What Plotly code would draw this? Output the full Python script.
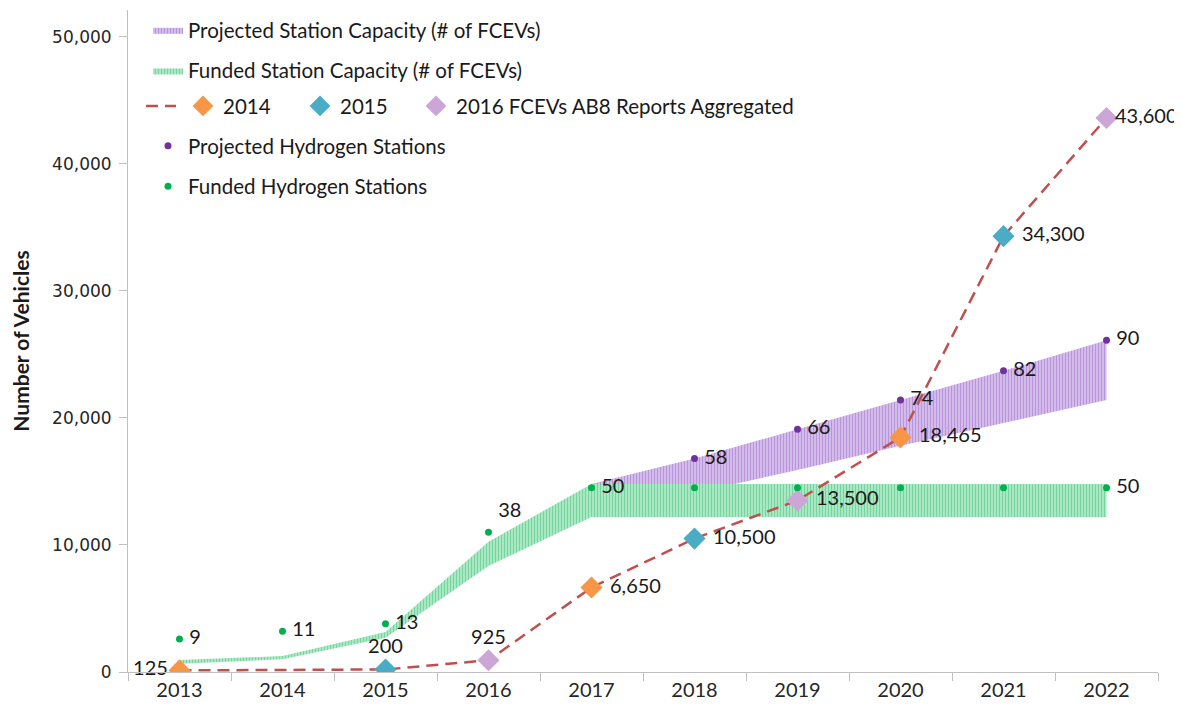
import plotly.graph_objects as go

years = ['2013', '2014', '2015', '2016', '2017', '2018', '2019', '2020', '2021', '2022']

# station capacity bands (number of FCEVs)
funded_low = [650, 1000, 2700, 8350, 12200, 12200, 12200, 12200, 12200, 12200]
funded_high = [950, 1250, 3150, 10250, 14800, 14800, 14800, 14800, 14800, 14800]

proj_years = ['2017', '2018', '2019', '2020', '2021', '2022']
proj_low = [12200, 14100, 15900, 17800, 19600, 21400]
proj_high = [14800, 16800, 19100, 21400, 23700, 26100]

# FCEV counts from AB8 reports
fcev_years = ['2013', '2015', '2016', '2017', '2018', '2019', '2020', '2021', '2022']
fcev_values = [125, 200, 925, 6650, 10500, 13500, 18465, 34300, 43600]

r2014_years = ['2013', '2017', '2020']
r2014_values = [125, 6650, 18465]
r2015_years = ['2015', '2018', '2021']
r2015_values = [200, 10500, 34300]
r2016_years = ['2016', '2019', '2022']
r2016_values = [925, 13500, 43600]

# hydrogen station counts (dot height, label)
funded_st_y = [2600, 3200, 3800, 11000, 14500, 14500, 14500, 14500, 14500, 14500]
funded_st_labels = ['9', '11', '13', '38', '50', '', '', '', '', '50']
proj_st_years = ['2018', '2019', '2020', '2021', '2022']
proj_st_y = [16800, 19100, 21400, 23700, 26100]
proj_st_labels = ['58', '66', '74', '82', '90']

FONT = 'Lato'
TXT = '#1a1a1a'
W, H = 1174, 703   # page body adds an 8px margin
PW = 1030          # plot area width in px
CLEAR = 'rgba(0,0,0,0)'
LABEL_FONT = dict(size=20, color=TXT, family=FONT)


def band(x, lo, hi, name, fg, bg, legend, group):
    return go.Scatter(
        x=x + x[::-1], y=hi + lo[::-1], mode='lines', fill='toself',
        line=dict(width=0), fillcolor=bg, name=name,
        fillpattern=dict(shape='|', fgcolor=fg, bgcolor=bg, size=3, solidity=0.45),
        legend=legend, legendgroup=group, hoverinfo='skip')


def labels(x, y, pos, size, text=None, template=None):
    # invisible markers carry the data labels so the offset can be tuned
    return go.Scatter(x=x, y=y, mode='markers+text', text=text, texttemplate=template,
                      textposition=pos, textfont=LABEL_FONT, cliponaxis=False,
                      marker=dict(size=size, color=CLEAR, opacity=0, line=dict(width=0)),
                      showlegend=False, hoverinfo='skip')


fig = go.Figure()
fig.add_trace(band(proj_years, proj_low, proj_high, 'Projected Station Capacity (# of FCEVs)',
                   '#9966CC', '#D8C3EC', 'legend', 'a'))
fig.add_trace(band(years, funded_low, funded_high, 'Funded Station Capacity (# of FCEVs)',
                   '#33C172', '#B5EBCB', 'legend', 'b'))

fig.add_trace(go.Scatter(x=fcev_years, y=fcev_values, mode='lines', name=' ',
                         line=dict(color='#C0504D', width=2.5, dash='12px,7px'),
                         legend='legend2'))

for name, x, y, col, lg in [('2014', r2014_years, r2014_values, '#F79646', 'legend3'),
                            ('2015', r2015_years, r2015_values, '#4BACC6', 'legend5'),
                            ('2016 FCEVs AB8 Reports Aggregated', r2016_years, r2016_values,
                             '#CCA6D6', 'legend6')]:
    fig.add_trace(go.Scatter(x=x, y=y, mode='markers', name=name, legend=lg,
                             marker=dict(symbol='diamond', size=17, color=col)))

fig.add_trace(go.Scatter(x=proj_st_years, y=proj_st_y, mode='markers',
                         name='Projected Hydrogen Stations',
                         marker=dict(size=7, color='#7030A0'), legend='legend4', legendgroup='c'))
fig.add_trace(go.Scatter(x=years, y=funded_st_y, mode='markers',
                         name='Funded Hydrogen Stations',
                         marker=dict(size=7, color='#00B050'), legend='legend4', legendgroup='d'))

fcev_pos = ['middle left', 'top center', 'top center'] + ['middle right'] * 6
fcev_size = [17, 17, 17] + [28] * 5 + [12]
fig.add_trace(labels(fcev_years, fcev_values, fcev_pos, fcev_size, template='%{y:,}'))
fig.add_trace(labels(proj_st_years, proj_st_y, 'middle right', 14, text=proj_st_labels))
st_pos = ['middle right'] * 3 + ['top right'] + ['middle right'] * 6
fig.add_trace(labels(years, funded_st_y, st_pos, 14, text=funded_st_labels))

leg = dict(bgcolor=CLEAR, font=dict(size=20.5, color=TXT, family=FONT),
           xanchor='left', yanchor='top', tracegroupgap=11)
fig.update_layout(
    width=W, height=H,
    margin=dict(l=120, r=24, t=2, b=39),
    paper_bgcolor='white', plot_bgcolor='white',
    font=dict(family=FONT, color=TXT),
    legend=dict(leg, x=20 / PW, y=1.0),
    legend2=dict(leg, x=13 / PW, y=0.885, orientation='h'),
    legend3=dict(leg, x=55 / PW, y=0.885, orientation='h'),
    legend5=dict(leg, x=172 / PW, y=0.885, orientation='h'),
    legend6=dict(leg, x=288 / PW, y=0.885, orientation='h'),
    legend4=dict(leg, x=20 / PW, y=0.825),
    xaxis=dict(type='category', categoryorder='array', categoryarray=years,
               range=[-0.5, 9.5], showgrid=False, showline=True,
               linecolor='#BFBFBF', ticks='outside', tickson='boundaries', ticklen=8,
               tickcolor='#BFBFBF', tickfont=dict(size=20, color='#262626', family=FONT)),
    yaxis=dict(range=[0, 52100], tickvals=[0, 10000, 20000, 30000, 40000, 50000],
               tickformat=',', showgrid=False, showline=True, linecolor='#BFBFBF',
               ticks='outside', ticklen=8, tickcolor='#BFBFBF', zeroline=False,
               ticklabelstandoff=4,
               tickfont=dict(size=17, color='#262626', family='DejaVu Sans'),
               title=dict(text='<b>Number of Vehicles</b>', font=dict(size=21, color=TXT, family=FONT),
                          standoff=18)),
)

fig.write_html('out.html')
